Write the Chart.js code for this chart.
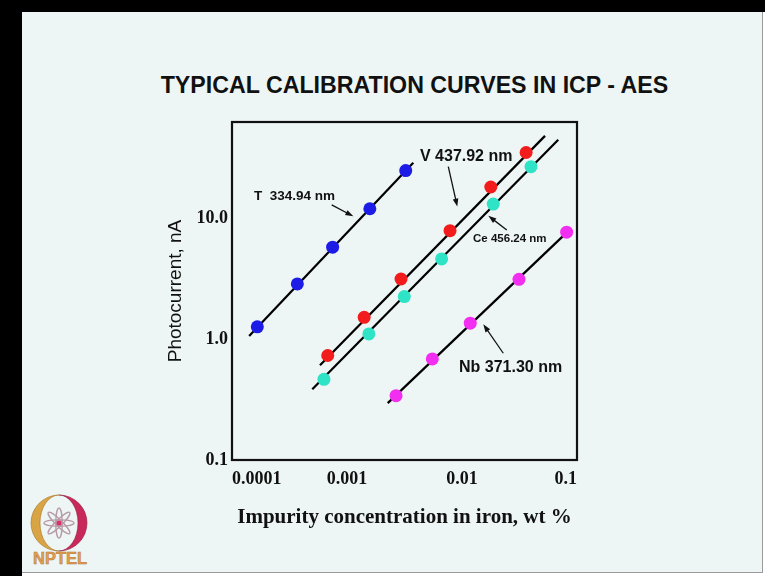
<!DOCTYPE html>
<html>
<head>
<meta charset="utf-8">
<script src="https://cdn.jsdelivr.net/npm/chart.js@4/dist/chart.umd.min.js"></script>
<style>
  html, body { margin: 0; padding: 0; background: #ffffff; }
  #page { position: relative; width: 765px; height: 576px; overflow: hidden; }
  #topbar { position: absolute; left: 0; top: 0; width: 765px; height: 12px; background: #000; }
  #leftbar { position: absolute; left: 0; top: 0; width: 22px; height: 576px; background: #000; }
  #slide { position: absolute; left: 22px; top: 12px; width: 740px; height: 560px; background: #edf6f4;
           border-right: 1px solid #9a9a9a; border-bottom: 1px solid #9a9a9a; }
  #title { position: absolute; left: 0; top: 71px; width: 829px; text-align: center; white-space: nowrap;
           font: bold 23.2px "Liberation Sans", Arial, sans-serif; line-height: 28px; color: #111; }
  #myChart { position: absolute; left: 0; top: 0; }
  #logo { position: absolute; left: 26px; top: 490px; }
</style>
</head>
<body>
<div id="page">
  <div id="topbar"></div>
  <div id="leftbar"></div>
  <div id="slide"></div>
  <div id="title">TYPICAL CALIBRATION CURVES IN ICP - AES</div>
  <svg id="logo" width="70" height="80" viewBox="0 0 70 80">
    <path d="M33 5 A28 28 0 0 0 33 61 A19 28 0 0 1 33 5 Z" fill="#d9a443" stroke="#a87426" stroke-width="0.6"/>
    <path d="M33 5 A28 28 0 0 1 33 61 A19 28 0 0 0 33 5 Z" fill="#c8285a" stroke="#8e1c40" stroke-width="0.6"/>
    <g stroke="#b79aa6" stroke-width="1.3" fill="none">
      <ellipse cx="33" cy="33" rx="3.2" ry="15"/>
      <ellipse cx="33" cy="33" rx="3.2" ry="15" transform="rotate(45 33 33)"/>
      <ellipse cx="33" cy="33" rx="3.2" ry="15" transform="rotate(90 33 33)"/>
      <ellipse cx="33" cy="33" rx="3.2" ry="15" transform="rotate(135 33 33)"/>
    </g>
    <circle cx="33" cy="33" r="2.6" fill="#d8326a"/>
    <text x="7" y="74" textLength="54" lengthAdjust="spacingAndGlyphs" font-family="Liberation Sans, Arial, sans-serif"
          font-weight="bold" font-size="16" fill="#e3a052" stroke="#b9782e" stroke-width="0.5">NPTEL</text>
  </svg>
  <canvas id="myChart" width="765" height="576"></canvas>
</div>
<script>
// concentrations (wt %) and photocurrents (nA)
const tConc = [0.000166, 0.00037, 0.00075, 0.00158, 0.00324];
const tCurrent = [1.26, 2.85, 5.73, 11.9, 24.6];
const vConc = [0.00068, 0.00141, 0.00295, 0.00787, 0.0178, 0.0361];
const vCurrent = [0.73, 1.51, 3.13, 7.85, 18.0, 34.7];
const ceConc = [0.00063, 0.00155, 0.00315, 0.00665, 0.0187, 0.0398];
const ceCurrent = [0.464, 1.10, 2.24, 4.58, 13.0, 26.5];
const nbConc = [0.00267, 0.00552, 0.0118, 0.0313, 0.0813];
const nbCurrent = [0.34, 0.684, 1.35, 3.11, 7.62];

// end points of the drawn calibration lines
const tLineConc = [0.000141, 0.00377];
const tLineCurrent = [1.06, 28.6];
const vLineConc = [0.000582, 0.0527];
const vLineCurrent = [0.607, 47.6];
const ceLineConc = [0.000499, 0.0687];
const ceLineCurrent = [0.384, 44.2];
const nbLineConc = [0.00226, 0.083];
const nbLineCurrent = [0.295, 7.7];

const xTicks = [0.0001, 0.001, 0.01, 0.1];
const xTickLabels = ["0.0001", "0.001", "0.01", "0.1"];
const yTicks = [0.1, 1, 10];
const yTickLabels = ["0.1", "1.0", "10.0"];

// line labels and arrows (data coordinates)
const noteText = ["T  334.94 nm", "V 437.92 nm", "Ce 456.24 nm", "Nb 371.30 nm"];
const noteConc = [0.000155, 0.00431, 0.01248, 0.00942];
const noteCurrent = [15.2, 31.9, 6.70, 0.575];
const noteSize = [13.5, 16, 11.5, 16];
const arrowFromConc = [0.000736, 0.0076, 0.0245, 0.02286];
const arrowFromCurrent = [12.8, 26.5, 7.96, 0.762];
const arrowToConc = [0.001135, 0.0091, 0.01695, 0.01531];
const arrowToCurrent = [10.3, 12.4, 10.4, 1.32];

function pts(xs, ys) {
    let out = [];
    for (let i = 0; i < xs.length; i++) {
        out.push({x: xs[i], y: ys[i]});
    }
    return out;
}

function lineSet(xs, ys) {
    return {
        type: 'line',
        data: pts(xs, ys),
        borderColor: '#000000',
        borderWidth: 2.2,
        pointRadius: 0,
        fill: false,
        order: 2
    };
}

function dotSet(xs, ys, color) {
    return {
        type: 'scatter',
        data: pts(xs, ys),
        backgroundColor: color,
        borderWidth: 0,
        pointRadius: 6.5,
        order: 1
    };
}

const boxPlugin = {
    id: 'box',
    beforeDatasetsDraw(chart) {
        const a = chart.chartArea;
        const ctx = chart.ctx;
        ctx.save();
        ctx.strokeStyle = '#111';
        ctx.lineWidth = 2.2;
        ctx.strokeRect(a.left, a.top, a.right - a.left, a.bottom - a.top);
        ctx.restore();
    },
    afterDatasetsDraw(chart) {
        const ctx = chart.ctx;
        const xs = chart.scales.x;
        const ys = chart.scales.y;
        ctx.save();
        ctx.fillStyle = '#111';
        ctx.strokeStyle = '#111';
        ctx.textBaseline = 'middle';
        ctx.textAlign = 'left';
        for (let i = 0; i < noteText.length; i++) {
            ctx.font = 'bold ' + noteSize[i] + 'px "Liberation Sans", Arial, sans-serif';
            ctx.fillText(noteText[i], xs.getPixelForValue(noteConc[i]), ys.getPixelForValue(noteCurrent[i]));

            let x1 = xs.getPixelForValue(arrowFromConc[i]);
            let y1 = ys.getPixelForValue(arrowFromCurrent[i]);
            let x2 = xs.getPixelForValue(arrowToConc[i]);
            let y2 = ys.getPixelForValue(arrowToCurrent[i]);
            let ang = Math.atan2(y2 - y1, x2 - x1);
            ctx.lineWidth = 1.3;
            ctx.beginPath();
            ctx.moveTo(x1, y1);
            ctx.lineTo(x2 - 5 * Math.cos(ang), y2 - 5 * Math.sin(ang));
            ctx.stroke();
            ctx.beginPath();
            ctx.moveTo(x2, y2);
            ctx.lineTo(x2 - 8 * Math.cos(ang) + 2.8 * Math.sin(ang), y2 - 8 * Math.sin(ang) - 2.8 * Math.cos(ang));
            ctx.lineTo(x2 - 8 * Math.cos(ang) - 2.8 * Math.sin(ang), y2 - 8 * Math.sin(ang) + 2.8 * Math.cos(ang));
            ctx.closePath();
            ctx.fill();
        }
        ctx.restore();
    }
};

let data = {
    datasets: [
        dotSet(tConc, tCurrent, '#1c1ce6'),
        dotSet(vConc, vCurrent, '#f21c1c'),
        dotSet(ceConc, ceCurrent, '#2fe3c6'),
        dotSet(nbConc, nbCurrent, '#f22ef0'),
        lineSet(tLineConc, tLineCurrent),
        lineSet(vLineConc, vLineCurrent),
        lineSet(ceLineConc, ceLineCurrent),
        lineSet(nbLineConc, nbLineCurrent)
    ]
};

const tickFont = {family: '"Liberation Serif", "Times New Roman", serif', weight: 'bold', size: 18};

let config = {
    type: 'scatter',
    data: data,
    options: {
        responsive: false,
        animation: false,
        devicePixelRatio: 1,
        layout: {padding: {left: 150, top: 122, right: 188, bottom: 30}},
        plugins: {
            legend: {display: false},
            tooltip: {enabled: false}
        },
        scales: {
            x: {
                type: 'logarithmic',
                min: 0.0001,
                max: 0.1,
                grid: {display: false, drawTicks: false},
                border: {display: false},
                afterBuildTicks: function (scale) {
                    scale.ticks = xTicks.map(v => ({value: v}));
                },
                afterFit: function (scale) {
                    scale.height = 86;
                },
                ticks: {
                    autoSkip: false,
                    maxRotation: 0,
                    align: 'inner',
                    padding: 9,
                    color: '#111',
                    font: tickFont,
                    callback: function (value, index) {
                        return xTickLabels[index];
                    }
                },
                title: {
                    display: true,
                    text: 'Impurity concentration in iron, wt %',
                    color: '#111',
                    font: {family: '"Liberation Serif", "Times New Roman", serif', weight: 'bold', size: 21, lineHeight: 1.2},
                    padding: {top: 0, bottom: 15.4}
                }
            },
            y: {
                type: 'logarithmic',
                min: 0.1,
                max: 62,
                grid: {display: false, drawTicks: false},
                border: {display: false},
                afterBuildTicks: function (scale) {
                    scale.ticks = yTicks.map(v => ({value: v}));
                },
                afterFit: function (scale) {
                    scale.width = 82;
                },
                ticks: {
                    autoSkip: false,
                    padding: 4,
                    color: '#111',
                    font: tickFont,
                    callback: function (value, index) {
                        return yTickLabels[index];
                    }
                },
                title: {
                    display: true,
                    text: 'Photocurrent, nA',
                    color: '#111',
                    font: {family: '"Liberation Sans", Arial, sans-serif', size: 19, lineHeight: 1.2},
                    padding: {top: 14.6, bottom: 0}
                }
            }
        }
    },
    plugins: [boxPlugin]
};

let myChart = new Chart(document.getElementById('myChart'), config);
</script>
</body>
</html>
